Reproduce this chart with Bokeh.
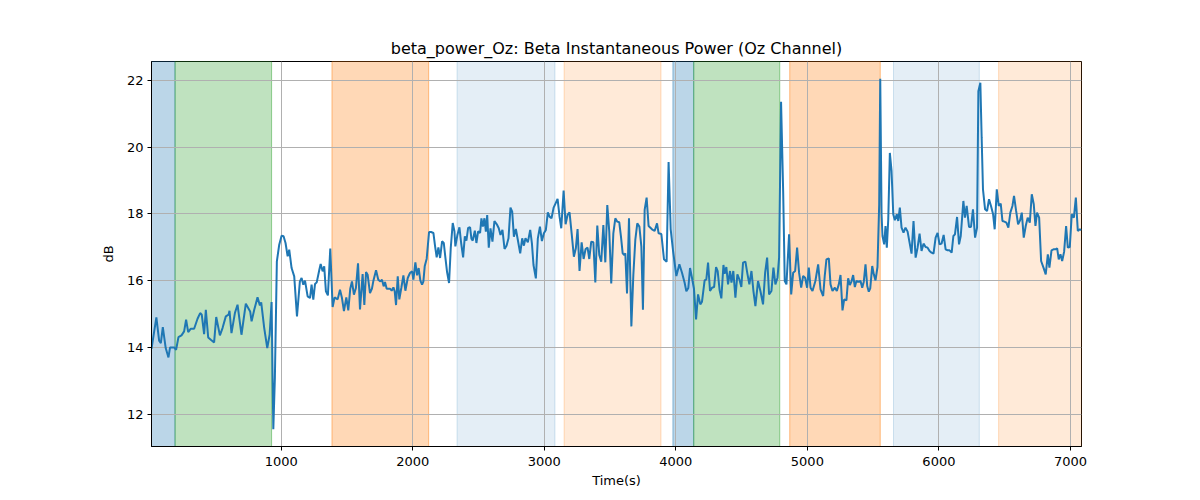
from bokeh.plotting import figure
from bokeh.models import Range1d, BoxAnnotation, SingleIntervalTicker, ColumnDataSource
from bokeh.embed import file_html
from bokeh.resources import INLINE

time_s = [14, 51, 72, 85, 100, 122, 143, 155, 186, 201, 219, 242, 262, 277, 293, 313, 338, 364, 384, 396,
          414, 427, 445, 465, 490, 506, 534, 554, 579, 600, 607, 622, 648, 668, 698, 731, 764, 775, 795, 820,
          838, 848, 871, 894, 912, 927, 940, 952, 967, 985, 1003, 1018, 1033, 1049, 1061, 1079, 1099, 1120, 1142, 1155,
          1168, 1181, 1201, 1219, 1231, 1244, 1257, 1270, 1290, 1300, 1315, 1327, 1340, 1355, 1373, 1391, 1406, 1429, 1447, 1462,
          1477, 1495, 1510, 1525, 1538, 1553, 1568, 1584, 1599, 1619, 1632, 1645, 1657, 1675, 1690, 1700, 1721, 1738, 1754, 1766,
          1779, 1789, 1802, 1815, 1827, 1840, 1853, 1863, 1873, 1886, 1898, 1913, 1929, 1944, 1962, 1979, 1995, 2005, 2020, 2033,
          2045, 2058, 2071, 2081, 2091, 2106, 2124, 2139, 2157, 2170, 2182, 2195, 2208, 2223, 2236, 2248, 2261, 2276, 2289, 2304,
          2317, 2324, 2340, 2355, 2368, 2383, 2396, 2408, 2421, 2436, 2446, 2456, 2472, 2484, 2497, 2512, 2522, 2533, 2545, 2556,
          2566, 2578, 2591, 2606, 2621, 2639, 2654, 2667, 2682, 2698, 2713, 2728, 2743, 2756, 2769, 2784, 2799, 2817, 2832, 2845,
          2857, 2875, 2893, 2906, 2918, 2936, 2951, 2967, 2982, 2997, 3012, 3027, 3040, 3055, 3071, 3086, 3101, 3116, 3129, 3147,
          3162, 3177, 3192, 3208, 3225, 3240, 3253, 3268, 3284, 3299, 3314, 3329, 3342, 3357, 3373, 3388, 3403, 3418, 3433, 3449,
          3464, 3479, 3494, 3509, 3525, 3540, 3555, 3570, 3583, 3596, 3608, 3616, 3629, 3644, 3662, 3677, 3692, 3707, 3723, 3738,
          3750, 3763, 3778, 3793, 3819, 3839, 3857, 3869, 3890, 3910, 3930, 3945, 3961, 3979, 4004, 4027, 4047, 4067, 4080, 4095,
          4108, 4123, 4138, 4154, 4169, 4186, 4199, 4219, 4232, 4245, 4260, 4275, 4291, 4306, 4318, 4333, 4346, 4362, 4371, 4384,
          4397, 4412, 4423, 4437, 4453, 4468, 4483, 4498, 4511, 4529, 4544, 4559, 4575, 4590, 4605, 4625, 4643, 4663, 4679, 4694,
          4709, 4727, 4742, 4757, 4773, 4785, 4800, 4816, 4828, 4841, 4861, 4877, 4892, 4907, 4922, 4937, 4953, 4968, 4983, 4998,
          5011, 5024, 5039, 5061, 5082, 5100, 5120, 5132, 5145, 5163, 5176, 5191, 5209, 5224, 5239, 5252, 5267, 5280, 5297, 5310,
          5323, 5335, 5348, 5361, 5373, 5389, 5404, 5417, 5429, 5442, 5455, 5467, 5478, 5493, 5505, 5518, 5533, 5546, 5554, 5564,
          5571, 5584, 5594, 5604, 5615, 5627, 5640, 5653, 5665, 5680, 5691, 5703, 5716, 5731, 5746, 5762, 5777, 5792, 5807, 5823,
          5838, 5853, 5868, 5883, 5899, 5914, 5929, 5944, 5959, 5975, 5990, 6005, 6020, 6036, 6051, 6066, 6081, 6097, 6110, 6122,
          6138, 6153, 6166, 6186, 6198, 6211, 6229, 6244, 6259, 6275, 6290, 6300, 6315, 6325, 6335, 6351, 6366, 6381, 6396, 6412,
          6424, 6440, 6455, 6470, 6483, 6498, 6513, 6528, 6543, 6559, 6571, 6587, 6602, 6617, 6630, 6645, 6660, 6675, 6691, 6706,
          6721, 6734, 6746, 6762, 6777, 6795, 6812, 6828, 6840, 6856, 6871, 6886, 6899, 6911, 6924, 6937, 6952, 6967, 6980, 6995,
          7010, 7026, 7041, 7056, 7071, 7084]

power_db = [13.96, 14.90, 14.20, 14.13, 14.61, 13.98, 13.70, 14.00, 14.00, 13.93, 14.31, 14.36, 14.48, 14.83, 14.46, 14.56, 14.56, 14.86, 15.03, 14.98,
            14.40, 15.13, 14.30, 14.23, 14.15, 14.91, 14.36, 14.58, 14.93, 14.98, 15.10, 14.43, 15.03, 15.28, 14.38, 15.31, 15.08, 14.78, 15.13, 15.50,
            15.26, 15.35, 14.58, 13.98, 14.38, 15.36, 11.55, 13.09, 16.58, 17.08, 17.35, 17.33, 17.13, 16.73, 16.93, 16.38, 16.13, 14.93, 15.98, 16.08,
            15.88, 16.00, 15.53, 15.48, 15.88, 15.43, 15.90, 15.95, 16.33, 16.50, 16.28, 16.43, 15.68, 15.56, 16.96, 15.21, 15.50, 15.44, 15.73, 15.48,
            15.09, 15.50, 15.11, 15.76, 15.98, 15.58, 15.78, 16.52, 15.14, 16.20, 15.27, 16.26, 16.18, 15.63, 15.76, 15.98, 16.31, 16.03, 15.98, 16.03,
            15.83, 15.96, 15.76, 15.76, 15.76, 15.70, 15.80, 15.68, 15.27, 16.13, 15.44, 15.78, 16.16, 15.70, 16.08, 16.23, 16.28, 16.03, 16.55, 16.16,
            16.38, 16.00, 15.88, 15.98, 16.43, 16.66, 17.46, 17.46, 17.43, 17.03, 16.70, 17.00, 16.68, 17.18, 17.13, 16.70, 16.26, 15.93, 16.98, 17.73,
            17.48, 17.03, 17.38, 17.60, 17.13, 16.70, 17.33, 17.20, 17.58, 17.60, 17.26, 17.20, 17.50, 17.13, 17.48, 17.43, 17.87, 17.62, 17.87, 17.47,
            17.97, 16.99, 17.57, 17.17, 17.79, 17.69, 17.57, 17.37, 17.52, 16.95, 17.05, 17.27, 18.19, 18.07, 17.32, 17.55, 17.22, 16.82, 17.27, 17.05,
            17.27, 17.15, 17.52, 17.12, 16.47, 16.07, 17.27, 17.62, 17.19, 17.42, 17.52, 18.05, 17.92, 17.87, 18.19, 18.32, 18.45, 17.92, 17.57, 18.70,
            17.69, 17.97, 18.05, 17.42, 16.72, 16.97, 17.55, 16.29, 17.15, 16.65, 16.95, 16.99, 16.65, 17.17, 17.15, 15.95, 17.65, 16.77, 16.57, 17.67,
            16.55, 18.27, 17.47, 15.92, 17.42, 17.87, 17.77, 17.75, 17.32, 16.82, 16.77, 16.82, 15.62, 17.87, 14.63, 16.17, 17.22, 17.72, 17.62, 17.02,
            15.13, 18.12, 18.49, 17.64, 17.54, 17.49, 17.72, 17.42, 17.40, 16.64, 16.57, 19.56, 17.54, 16.89, 16.14, 16.49, 16.24, 15.94, 15.68, 15.78,
            16.38, 16.08, 15.76, 14.84, 15.59, 15.29, 15.37, 16.01, 16.04, 16.54, 15.69, 15.79, 15.81, 16.41, 16.29, 15.71, 15.47, 16.47, 16.21, 16.41,
            15.89, 16.29, 15.94, 16.29, 15.49, 16.19, 16.04, 15.81, 16.54, 16.57, 16.21, 15.89, 16.29, 15.69, 15.24, 15.99, 15.69, 15.29, 16.24, 16.69,
            15.59, 15.69, 16.39, 15.89, 16.09, 16.69, 21.36, 18.68, 15.99, 15.89, 17.39, 15.59, 16.24, 16.29, 16.99, 16.24, 15.79, 16.14, 16.09, 15.79,
            16.39, 15.79, 15.69, 15.99, 16.49, 15.74, 15.54, 16.14, 16.64, 16.67, 15.89, 15.69, 15.79, 15.69, 15.89, 16.17, 15.11, 15.44, 15.41, 16.07,
            15.87, 15.97, 16.17, 15.81, 15.99, 15.97, 15.99, 15.79, 15.97, 16.49, 15.84, 15.67, 15.77, 16.44, 16.19, 16.01, 16.41, 18.29, 22.05, 17.99,
            17.34, 17.09, 17.64, 16.99, 17.84, 19.83, 19.29, 17.99, 17.81, 17.99, 17.79, 18.19, 17.59, 17.44, 17.59, 17.47, 17.14, 16.81, 17.79, 16.69,
            16.99, 17.41, 16.89, 17.11, 17.01, 16.99, 16.89, 16.84, 16.81, 17.29, 17.43, 17.09, 17.11, 17.37, 16.94, 16.91, 16.91, 16.84, 17.34, 17.39,
            17.91, 17.09, 17.34, 18.39, 17.89, 18.24, 17.61, 17.61, 18.14, 17.29, 17.59, 21.68, 21.93, 20.28, 18.74, 18.14, 18.09, 18.44, 18.24, 17.99,
            17.54, 18.74, 18.24, 18.31, 17.79, 17.77, 17.74, 17.59, 18.04, 18.24, 18.54, 18.09, 17.69, 17.81, 18.04, 17.29, 17.64, 17.89, 17.74, 18.59,
            18.29, 17.64, 18.04, 17.89, 16.59, 16.39, 16.19, 16.79, 16.39, 16.91, 16.94, 16.94, 16.97, 16.64, 16.79, 16.59, 16.87, 17.64, 16.99, 17.01,
            17.99, 17.89, 18.49, 17.49, 17.54, 17.52]

# shaded segments: start, end, colour, alpha
span_start = [14, 193, 1386, 2337, 3151, 3978, 4136, 4866, 5655, 6454]
span_end = [193, 927, 2121, 3081, 3887, 4136, 4790, 5554, 6307, 7084]
span_color = ["#1f77b4", "#2ca02c", "#ff7f0e", "#1f77b4", "#ff7f0e",
              "#1f77b4", "#2ca02c", "#ff7f0e", "#1f77b4", "#ff7f0e"]
span_alpha = [0.3, 0.3, 0.3, 0.12, 0.16, 0.3, 0.3, 0.3, 0.12, 0.16]

x_ticks_interval = 1000
y_ticks_interval = 2

FONT = "DejaVu Sans"

p = figure(width=1184, height=490, output_backend="svg", toolbar_location=None,
           x_range=Range1d(min(time_s), max(time_s)),
           y_range=Range1d(11.03, 22.57),
           min_border_left=151, min_border_right=103, min_border_top=61, min_border_bottom=44,
           title="beta_power_Oz: Beta Instantaneous Power (Oz Channel)")

p.title.text_font = FONT
p.title.text_font_size = "16px"
p.title.text_font_style = "normal"
p.title.align = "center"
p.title.text_color = "black"
p.title.standoff = 7

for s, e, c, a in zip(span_start, span_end, span_color, span_alpha):
    p.add_layout(BoxAnnotation(left=s, right=e, fill_color=c, fill_alpha=a,
                               line_color=c, line_alpha=min(1.0, a * 1.6), line_width=1, level="image"))

src = ColumnDataSource(dict(t=time_s, db=power_db))
p.line("t", "db", source=src, line_color="#1f77b4", line_width=2)

p.xaxis.ticker = SingleIntervalTicker(interval=x_ticks_interval, num_minor_ticks=0)
p.yaxis.ticker = SingleIntervalTicker(interval=y_ticks_interval, num_minor_ticks=0)
p.xaxis.axis_label = "Time(s)"
p.yaxis.axis_label = "dB"

for ax in (p.xaxis, p.yaxis):
    ax.axis_label_text_font = FONT
    ax.axis_label_text_font_size = "13px"
    ax.axis_label_text_font_style = "normal"
    ax.axis_label_text_color = "black"
    ax.major_label_text_font = FONT
    ax.major_label_text_font_size = "13px"
    ax.major_label_text_color = "black"
    ax.major_tick_out = 4
    ax.major_tick_in = 0
    ax.minor_tick_line_color = None
    ax.major_tick_line_color = "black"
    ax.axis_line_color = "black"
    ax.major_label_standoff = 4

p.xaxis.major_label_standoff = 6
p.xaxis.axis_label_standoff = 4
p.yaxis.axis_label_standoff = 8

p.xgrid.grid_line_color = "#b0b0b0"
p.ygrid.grid_line_color = "#b0b0b0"
p.xgrid.grid_line_width = 1
p.ygrid.grid_line_width = 1

p.outline_line_color = "black"
p.outline_line_width = 1
p.outline_line_alpha = 1
p.background_fill_color = "white"
p.border_fill_color = "white"

open("out.html", "w").write(file_html(p, INLINE))
